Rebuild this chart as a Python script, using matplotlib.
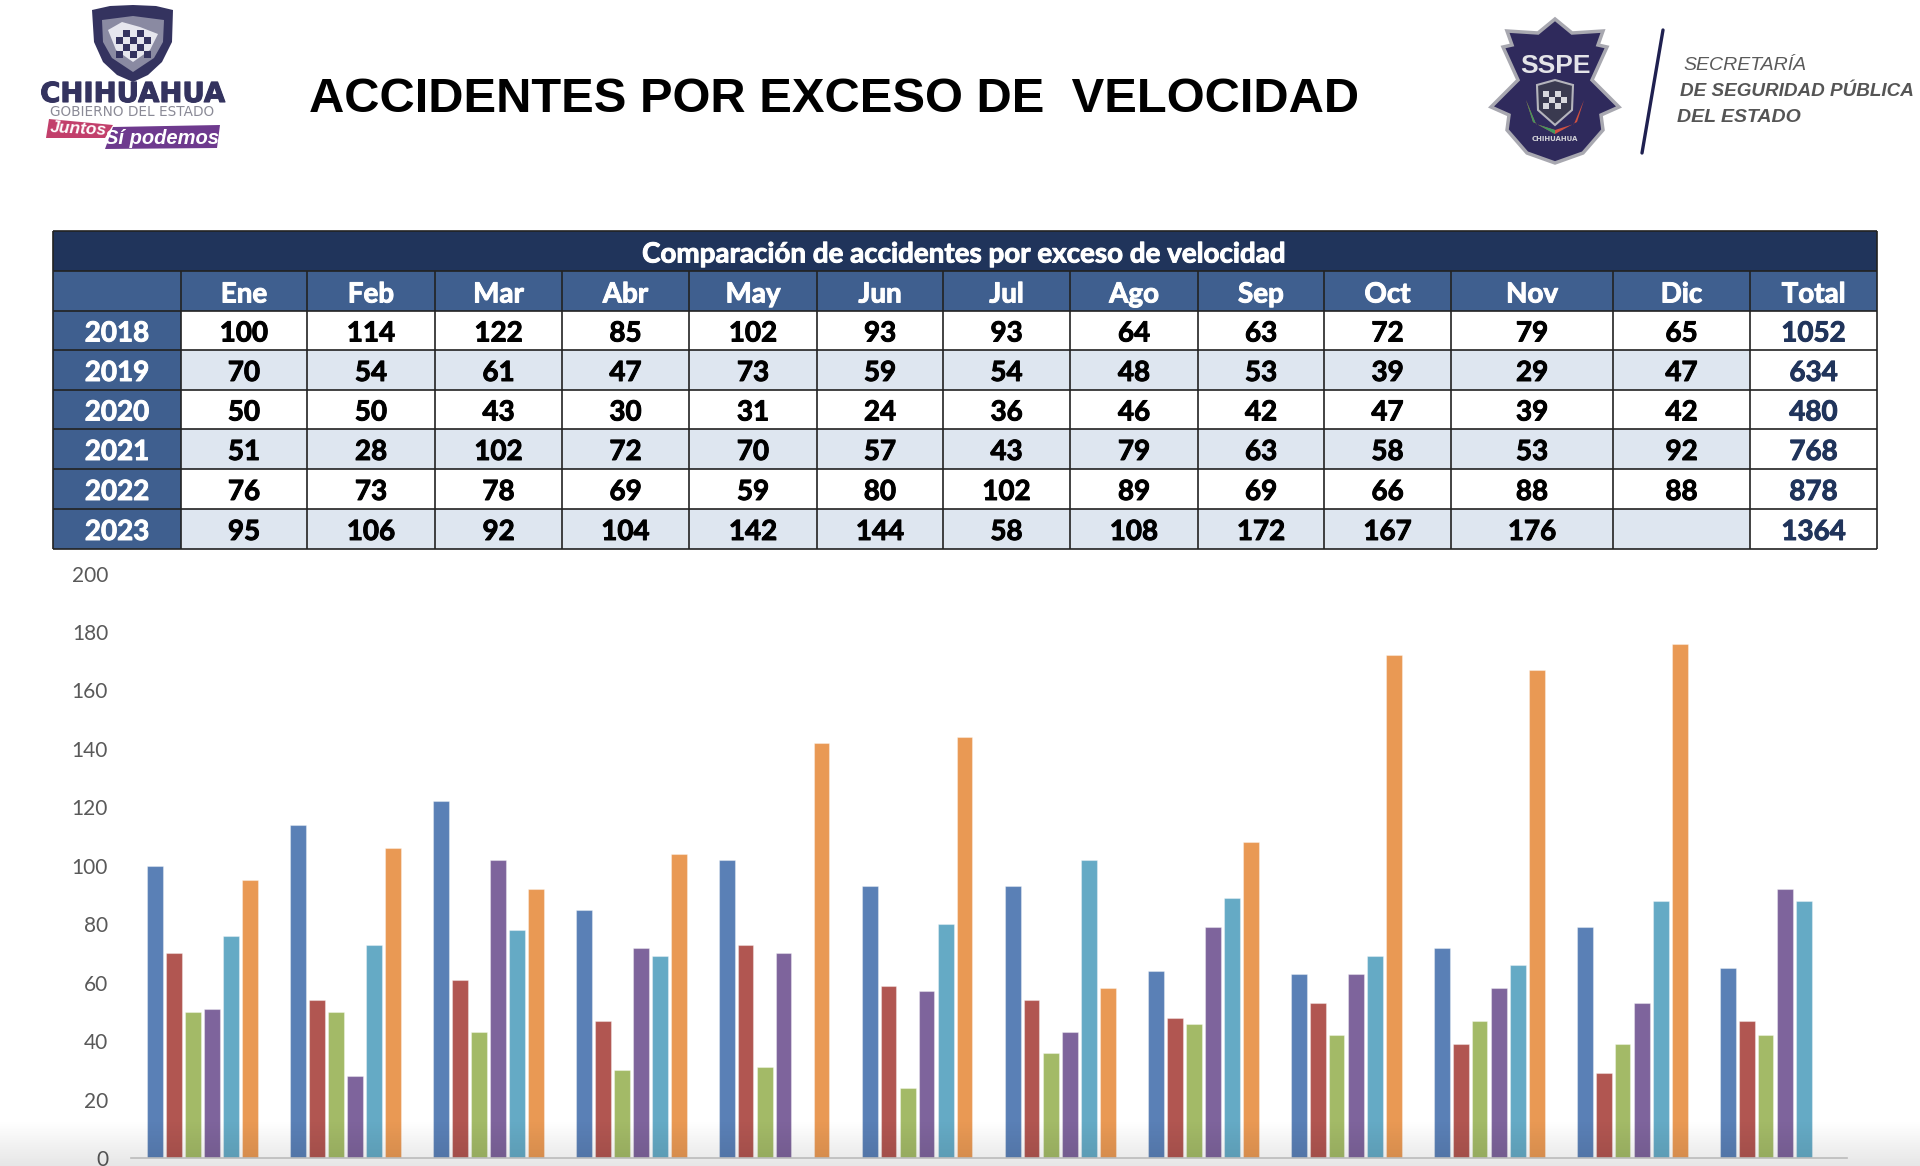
import matplotlib
matplotlib.use("Agg")
import matplotlib.pyplot as plt
from matplotlib.patches import Polygon, Rectangle
import matplotlib.patheffects as pe
import numpy as np

months = ["Ene", "Feb", "Mar", "Abr", "May", "Jun", "Jul", "Ago", "Sep", "Oct", "Nov", "Dic"]
years = ["2018", "2019", "2020", "2021", "2022", "2023"]

y2018 = [100, 114, 122, 85, 102, 93, 93, 64, 63, 72, 79, 65]
y2019 = [70, 54, 61, 47, 73, 59, 54, 48, 53, 39, 29, 47]
y2020 = [50, 50, 43, 30, 31, 24, 36, 46, 42, 47, 39, 42]
y2021 = [51, 28, 102, 72, 70, 57, 43, 79, 63, 58, 53, 92]
y2022 = [76, 73, 78, 69, 59, 80, 102, 89, 69, 66, 88, 88]
y2023 = [95, 106, 92, 104, 142, 144, 58, 108, 172, 167, 176, None]
totals = [1052, 634, 480, 768, 878, 1364]

# the chart has no bar for May 2022 although the table lists 59
chart2022 = [76, 73, 78, 69, None, 80, 102, 89, 69, 66, 88, 88]

table_rows = [y2018, y2019, y2020, y2021, y2022, y2023]
chart_rows = [y2018, y2019, y2020, y2021, chart2022, y2023]
bar_colors = ["#5A80B6", "#B15651", "#A3BA67", "#7E649C", "#65AAC5", "#E99954"]

sans = ["Lato", "DejaVu Sans"]
W, H = 1920, 1166


def cell_text(x, y, s, color):
    # Calibri bold in the original is heavier than Lato bold, thicken a little
    t = page.text(x, y, s, family=sans, weight="bold", fontsize=20, color=color, ha="center", va="center")
    t.set_path_effects([pe.withStroke(linewidth=0.7, foreground=color)])


fig = plt.figure(figsize=(W / 100, H / 100), dpi=100, facecolor="white")

# page layer in pixel coordinates for header and table
page = fig.add_axes([0, 0, 1, 1])
page.set_xlim(0, W)
page.set_ylim(H, 0)
page.axis("off")

page.text(309, 100, "ACCIDENTES POR EXCESO DE  VELOCIDAD", family="Liberation Sans",
          weight="bold", fontsize=35.2, color="black", ha="left", va="center")

# left logo
navy = "#34335F"
page.add_patch(Polygon([(92, 10), (110, 6), (133, 5), (156, 6), (173, 10), (172, 42), (162, 62),
                        (148, 75), (133, 82), (117, 75), (103, 62), (94, 42)], fc=navy, ec="none"))
page.add_patch(Polygon([(102, 20), (133, 16), (164, 20), (163, 42), (154, 58), (133, 72), (112, 58), (103, 42)],
                       fc="#8A8AA2", ec="none"))
page.add_patch(Polygon([(108, 30), (122, 22), (140, 27), (158, 34), (150, 50), (133, 62), (116, 50)],
                       fc="#E6E6EE", ec="none"))
for i in range(5):
    for j in range(4):
        if (i + j) % 2:
            page.add_patch(Rectangle((116 + i * 7, 30 + j * 7), 7, 7, fc=navy, ec="none"))
t = page.text(132.5, 94, "CHIHUAHUA", family="DejaVu Sans", weight="bold", fontsize=19.8, color=navy,
              ha="center", va="center")
t.set_path_effects([pe.withStroke(linewidth=0.8, foreground=navy)])
page.text(132.5, 112.5, "GOBIERNO DEL ESTADO", family="DejaVu Sans", fontsize=9.8, color="#8A8A96",
          ha="center", va="center")
page.add_patch(Polygon([(49, 119), (113, 125), (105, 138), (46, 138)], fc="#C23F6B", ec="none"))
page.add_patch(Polygon([(113, 127), (220, 125), (217, 148), (105, 149)], fc="#6E3A8E", ec="none"))
page.text(78, 129, "Juntos", family="Liberation Sans", weight="bold", style="italic", fontsize=12.5,
          color="white", ha="center", va="center", rotation=-3)
page.text(162, 138, "Sí podemos", family="Liberation Sans", weight="bold", style="italic", fontsize=14.5,
          color="white", ha="center", va="center")

# right logo
star = [(1555, 19), (1572, 33), (1603, 31), (1598, 45), (1607, 47), (1592, 80), (1619, 107), (1601, 115),
        (1603, 130), (1583, 153), (1555, 163), (1527, 153), (1507, 130), (1509, 115), (1491, 107), (1518, 80),
        (1503, 47), (1512, 45), (1507, 31), (1538, 33)]
page.add_patch(Polygon(star, fc="#2F2A5C", ec="#A8A8B0", lw=2.5))
page.add_patch(Polygon([(1526, 100), (1536, 124), (1555, 130), (1574, 124), (1584, 100), (1577, 122),
                        (1555, 134), (1533, 122)], fc="#D05040", ec="none"))
page.add_patch(Polygon([(1526, 100), (1536, 124), (1555, 130), (1555, 134), (1533, 122)], fc="#3E9A5F", ec="none"))
page.add_patch(Polygon([(1537, 85), (1555, 80), (1573, 85), (1572, 110), (1555, 125), (1538, 110)],
                       fc="#3A3A50", ec="#B5B5BD", lw=1.5))
for i in range(4):
    for j in range(3):
        if (i + j) % 2 == 0:
            page.add_patch(Rectangle((1543 + i * 6, 91 + j * 6), 6, 6, fc="#D8D8DE", ec="none"))
page.text(1555, 66, "SSPE", family="Liberation Sans", weight="bold", fontsize=19,
          color="#E4E4E8", ha="center", va="center")
page.text(1555, 139, "CHIHUAHUA", family="DejaVu Sans", weight="bold", fontsize=5, color="#D0D0D6",
          ha="center", va="center")
page.plot([1663, 1642], [30, 153], color="#1F2050", lw=2.4, solid_capstyle="round")
page.text(1683, 65, "SECRETARÍA", family="Liberation Sans", style="italic",
          fontsize=14, color="#5A5A5A", ha="left", va="center")
page.text(1680, 92, "DE SEGURIDAD PÚBLICA", family="Liberation Sans", weight="bold", style="italic",
          fontsize=13.6, color="#555555", ha="left", va="center")
page.text(1677, 118, "DEL ESTADO", family="Liberation Sans", weight="bold", style="italic",
          fontsize=14, color="#555555", ha="left", va="center")

# table
col_edges = [53, 181, 307, 435, 562, 689, 817, 943, 1070, 1198, 1324, 1451, 1613, 1750, 1877]
row_edges = [231, 271, 311, 350, 390, 429, 469, 509, 549]
dark_blue = "#20345B"
mid_blue = "#3F5F8F"
band = "#DEE6F0"
line = "#222222"

page.add_patch(Rectangle((53, 231), 1824, 40, fc=dark_blue, ec="none"))
page.add_patch(Rectangle((53, 271), 1824, 40, fc=mid_blue, ec="none"))
cell_text(964, 254.5, "Comparación de accidentes por exceso de velocidad", "white")

headers = months + ["Total"]
for c, name in enumerate(headers):
    x = (col_edges[c + 1] + col_edges[c + 2]) / 2
    cell_text(x, 294.5, name, "white")

for r, year in enumerate(years):
    top, bottom = row_edges[r + 2], row_edges[r + 3]
    mid = (top + bottom) / 2 + 3
    page.add_patch(Rectangle((53, top), 128, bottom - top, fc=mid_blue, ec="none"))
    cell_text(117, mid, year, "white")
    if r % 2:
        page.add_patch(Rectangle((181, top), 1569, bottom - top, fc=band, ec="none"))
    for c, val in enumerate(table_rows[r]):
        if val is not None:
            x = (col_edges[c + 1] + col_edges[c + 2]) / 2
            cell_text(x, mid, str(val), "black")
    cell_text((col_edges[13] + col_edges[14]) / 2, mid, str(totals[r]), dark_blue)

for y in row_edges:
    page.plot([53, 1877], [y, y], color=line, lw=1.2, solid_capstyle="butt")
for x in [53, 1877]:
    page.plot([x, x], [231, 549], color=line, lw=1.2, solid_capstyle="butt")
for x in col_edges[1:-1]:
    page.plot([x, x], [271, 549], color=line, lw=1.2, solid_capstyle="butt")

# bar chart
ax = fig.add_axes([131 / W, (H - 1158) / H, 1716 / W, 584.5 / H])
ax.patch.set_alpha(0)
ax.set_xlim(0, 12)
ax.set_ylim(0, 200)
bar_w = 15.5 / 143
step = 19 / 143
start = 16 / 143 + bar_w / 2
for s, row in enumerate(chart_rows):
    xs = [m + start + s * step for m, v in enumerate(row) if v is not None]
    vals = [v for v in row if v is not None]
    ax.bar(xs, vals, width=bar_w, color=bar_colors[s], edgecolor=(1, 1, 1, 0.35), linewidth=0.8)

ax.set_yticks(range(0, 201, 20))
ax.set_xticks([])
ax.tick_params(axis="y", length=0, pad=16.5, labelsize=15, labelcolor="#595959")
for lab in ax.get_yticklabels():
    lab.set_family(sans)
for side in ["top", "left", "right"]:
    ax.spines[side].set_visible(False)
ax.spines["bottom"].set_color("#CCCCCC")
ax.spines["bottom"].set_linewidth(1.2)

# soft shadow along the bottom edge of the screenshot
shade = fig.add_axes([0, 0, 1, 46 / H], zorder=5)
shade.axis("off")
grad = np.zeros((46, 2, 4))
grad[:, :, 3] = np.linspace(0, 0.1, 46).reshape(-1, 1)
shade.imshow(grad, aspect="auto")

fig.savefig("out.png", dpi=100)
plt.close(fig)
